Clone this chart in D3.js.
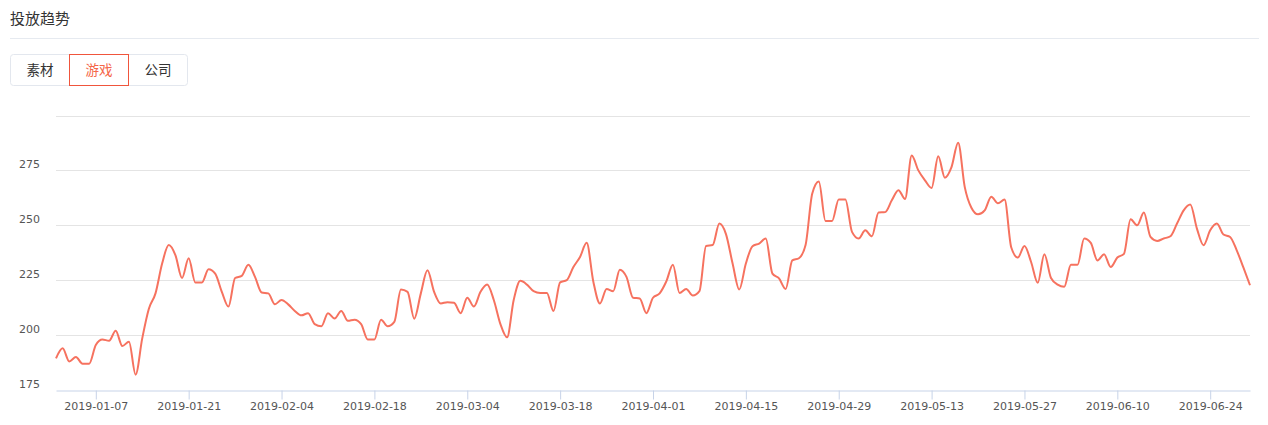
<!DOCTYPE html>
<html>
<head>
<meta charset="utf-8">
<script src="https://cdn.jsdelivr.net/npm/d3@7/dist/d3.min.js"></script>
<style>
  html, body { margin: 0; padding: 0; background: #fff; }
  svg { display: block; }
</style>
</head>
<body>
<svg id="chart" width="1268" height="425"></svg>
<script>
const title = "投放趋势";
const tabs = ["素材", "游戏", "公司"];
const activeTab = "游戏";
const startDate = "2019-01-01";
const endDate = "2019-06-30";
const values = [
  189.4, 194, 188, 190, 187, 187, 195.5, 198, 197.4, 202,
  195, 197, 182, 198.5, 212, 219, 232.6, 241, 236.4, 226,
  235, 224, 224, 230, 228, 219.7, 213, 226, 227, 232,
  226.5, 219.4, 219, 214, 216, 214, 211, 209, 210, 205,
  204, 210, 207.6, 211, 206.5, 207, 205, 198, 198, 207,
  204, 206, 220.8, 219.7, 207.5, 219, 229.5, 219.7, 214.4, 215,
  214.7, 210, 217, 213, 219.7, 223, 216, 205, 199, 216,
  224.7, 223, 220, 219.2, 219.2, 211, 224, 225, 231, 235.6,
  242, 224.4, 214.4, 221, 220, 229.8, 226.5, 217, 216.7, 210,
  217, 219, 224.4, 232, 219.2, 221, 218, 220, 240.6, 241,
  250.8, 246, 232.6, 220.8, 232.6, 240.5, 241.7, 244, 228, 225.8,
  221, 234, 235, 241, 264.4, 270, 252, 252, 261.8, 261.8,
  247, 244, 247.7, 245, 255.8, 256, 261.4, 266, 262, 281.8,
  275, 270.5, 267, 281.4, 271.7, 276.5, 287.6, 267.4, 258, 255,
  256.8, 263, 260, 261.7, 240, 235.3, 240.6, 233.3, 223.8, 236.8,
  226, 223, 222, 232, 232, 244, 242, 234, 236.8, 231,
  235.3, 237, 252.7, 250, 255.8, 244.7, 242.9, 244, 245, 250.8,
  256.8, 259.5, 248.5, 240.9, 247.7, 250.8, 245.8, 244.7, 238.6, 230.8,
  222.7
];
const xTickLabels = ["2019-01-07","2019-01-21","2019-02-04","2019-02-18","2019-03-04","2019-03-18","2019-04-01","2019-04-15","2019-04-29","2019-05-13","2019-05-27","2019-06-10","2019-06-24"];
const yTicks = [175, 200, 225, 250, 275, 300];
const yLabelTicks = [175, 200, 225, 250, 275];

const parse = d3.timeParse("%Y-%m-%d");
const dates = d3.timeDay.range(parse(startDate), d3.timeDay.offset(parse(endDate), 1));
const data = dates.map((d, i) => ({ date: d, value: values[i] }));

const svg = d3.select("#chart");
const cjk = "'Noto Sans CJK SC', 'Noto Sans', sans-serif";
const numFont = "'DejaVu Sans', sans-serif";

// Title
svg.append("text").attr("x", 10).attr("y", 23.5)
  .attr("font-family", cjk).attr("font-size", 15).attr("fill", "#333").text(title);
svg.append("line").attr("x1", 10).attr("x2", 1259).attr("y1", 38.5).attr("y2", 38.5)
  .attr("stroke", "#e6eaf0").attr("stroke-width", 1);

// Tabs
const tabX = d3.scaleBand().domain(tabs).range([10.5, 187.5]);
const tabG = svg.append("g");
tabG.append("rect").attr("x", 10.5).attr("y", 54.5).attr("width", 177).attr("height", 31)
  .attr("rx", 3).attr("fill", "#fff").attr("stroke", "#e3e7ee");
tabs.forEach(t => {
  if (t === activeTab) {
    tabG.append("rect").attr("x", tabX(t)).attr("y", 54.5).attr("width", tabX.bandwidth()).attr("height", 31)
      .attr("fill", "#fff").attr("stroke", "#f0553c");
  }
  tabG.append("text").attr("x", tabX(t) + tabX.bandwidth() / 2).attr("y", 75)
    .attr("text-anchor", "middle").attr("font-family", cjk).attr("font-size", 13.5)
    .attr("fill", t === activeTab ? "#f56648" : "#333").text(t);
});

// Scales
const x = d3.scaleTime().domain([parse(startDate), parse(endDate)]).range([56, 1250]);
const y = d3.scaleLinear().domain([175, 300]).range([390, 115.5]);

// Grid
svg.append("g").selectAll("line").data(yTicks.filter(v => v !== 175)).join("line")
  .attr("x1", 56).attr("x2", 1250)
  .attr("y1", d => Math.round(y(d)) + 0.5).attr("y2", d => Math.round(y(d)) + 0.5)
  .attr("stroke", "#e4e4e4").attr("stroke-width", 1);

// Y labels
svg.append("g").selectAll("text").data(yLabelTicks).join("text")
  .attr("x", 40).attr("y", d => y(d) - 2.5)
  .attr("text-anchor", "end").attr("font-family", numFont).attr("font-size", 11)
  .attr("fill", "#555").text(d => d);

// X axis
const xAxis = d3.axisBottom(x)
  .tickValues(xTickLabels.map(parse))
  .tickFormat(d3.timeFormat("%Y-%m-%d"))
  .tickSize(9).tickSizeOuter(0).tickPadding(3);
const gx = svg.append("g").attr("transform", "translate(0,390.5)").call(xAxis);
gx.select(".domain").attr("stroke", "#c7d3e8");
gx.selectAll(".tick line").attr("stroke", "#c7d3e8");
gx.selectAll(".tick text").attr("font-family", numFont).attr("font-size", 11).attr("fill", "#555");

// Line
const line = d3.line().x(d => x(d.date)).y(d => y(d.value)).curve(d3.curveMonotoneX);
svg.append("path").datum(data).attr("d", line)
  .attr("fill", "none").attr("stroke", "#f6725f").attr("stroke-width", 2)
  .attr("stroke-linejoin", "round");
</script>
</body>
</html>
